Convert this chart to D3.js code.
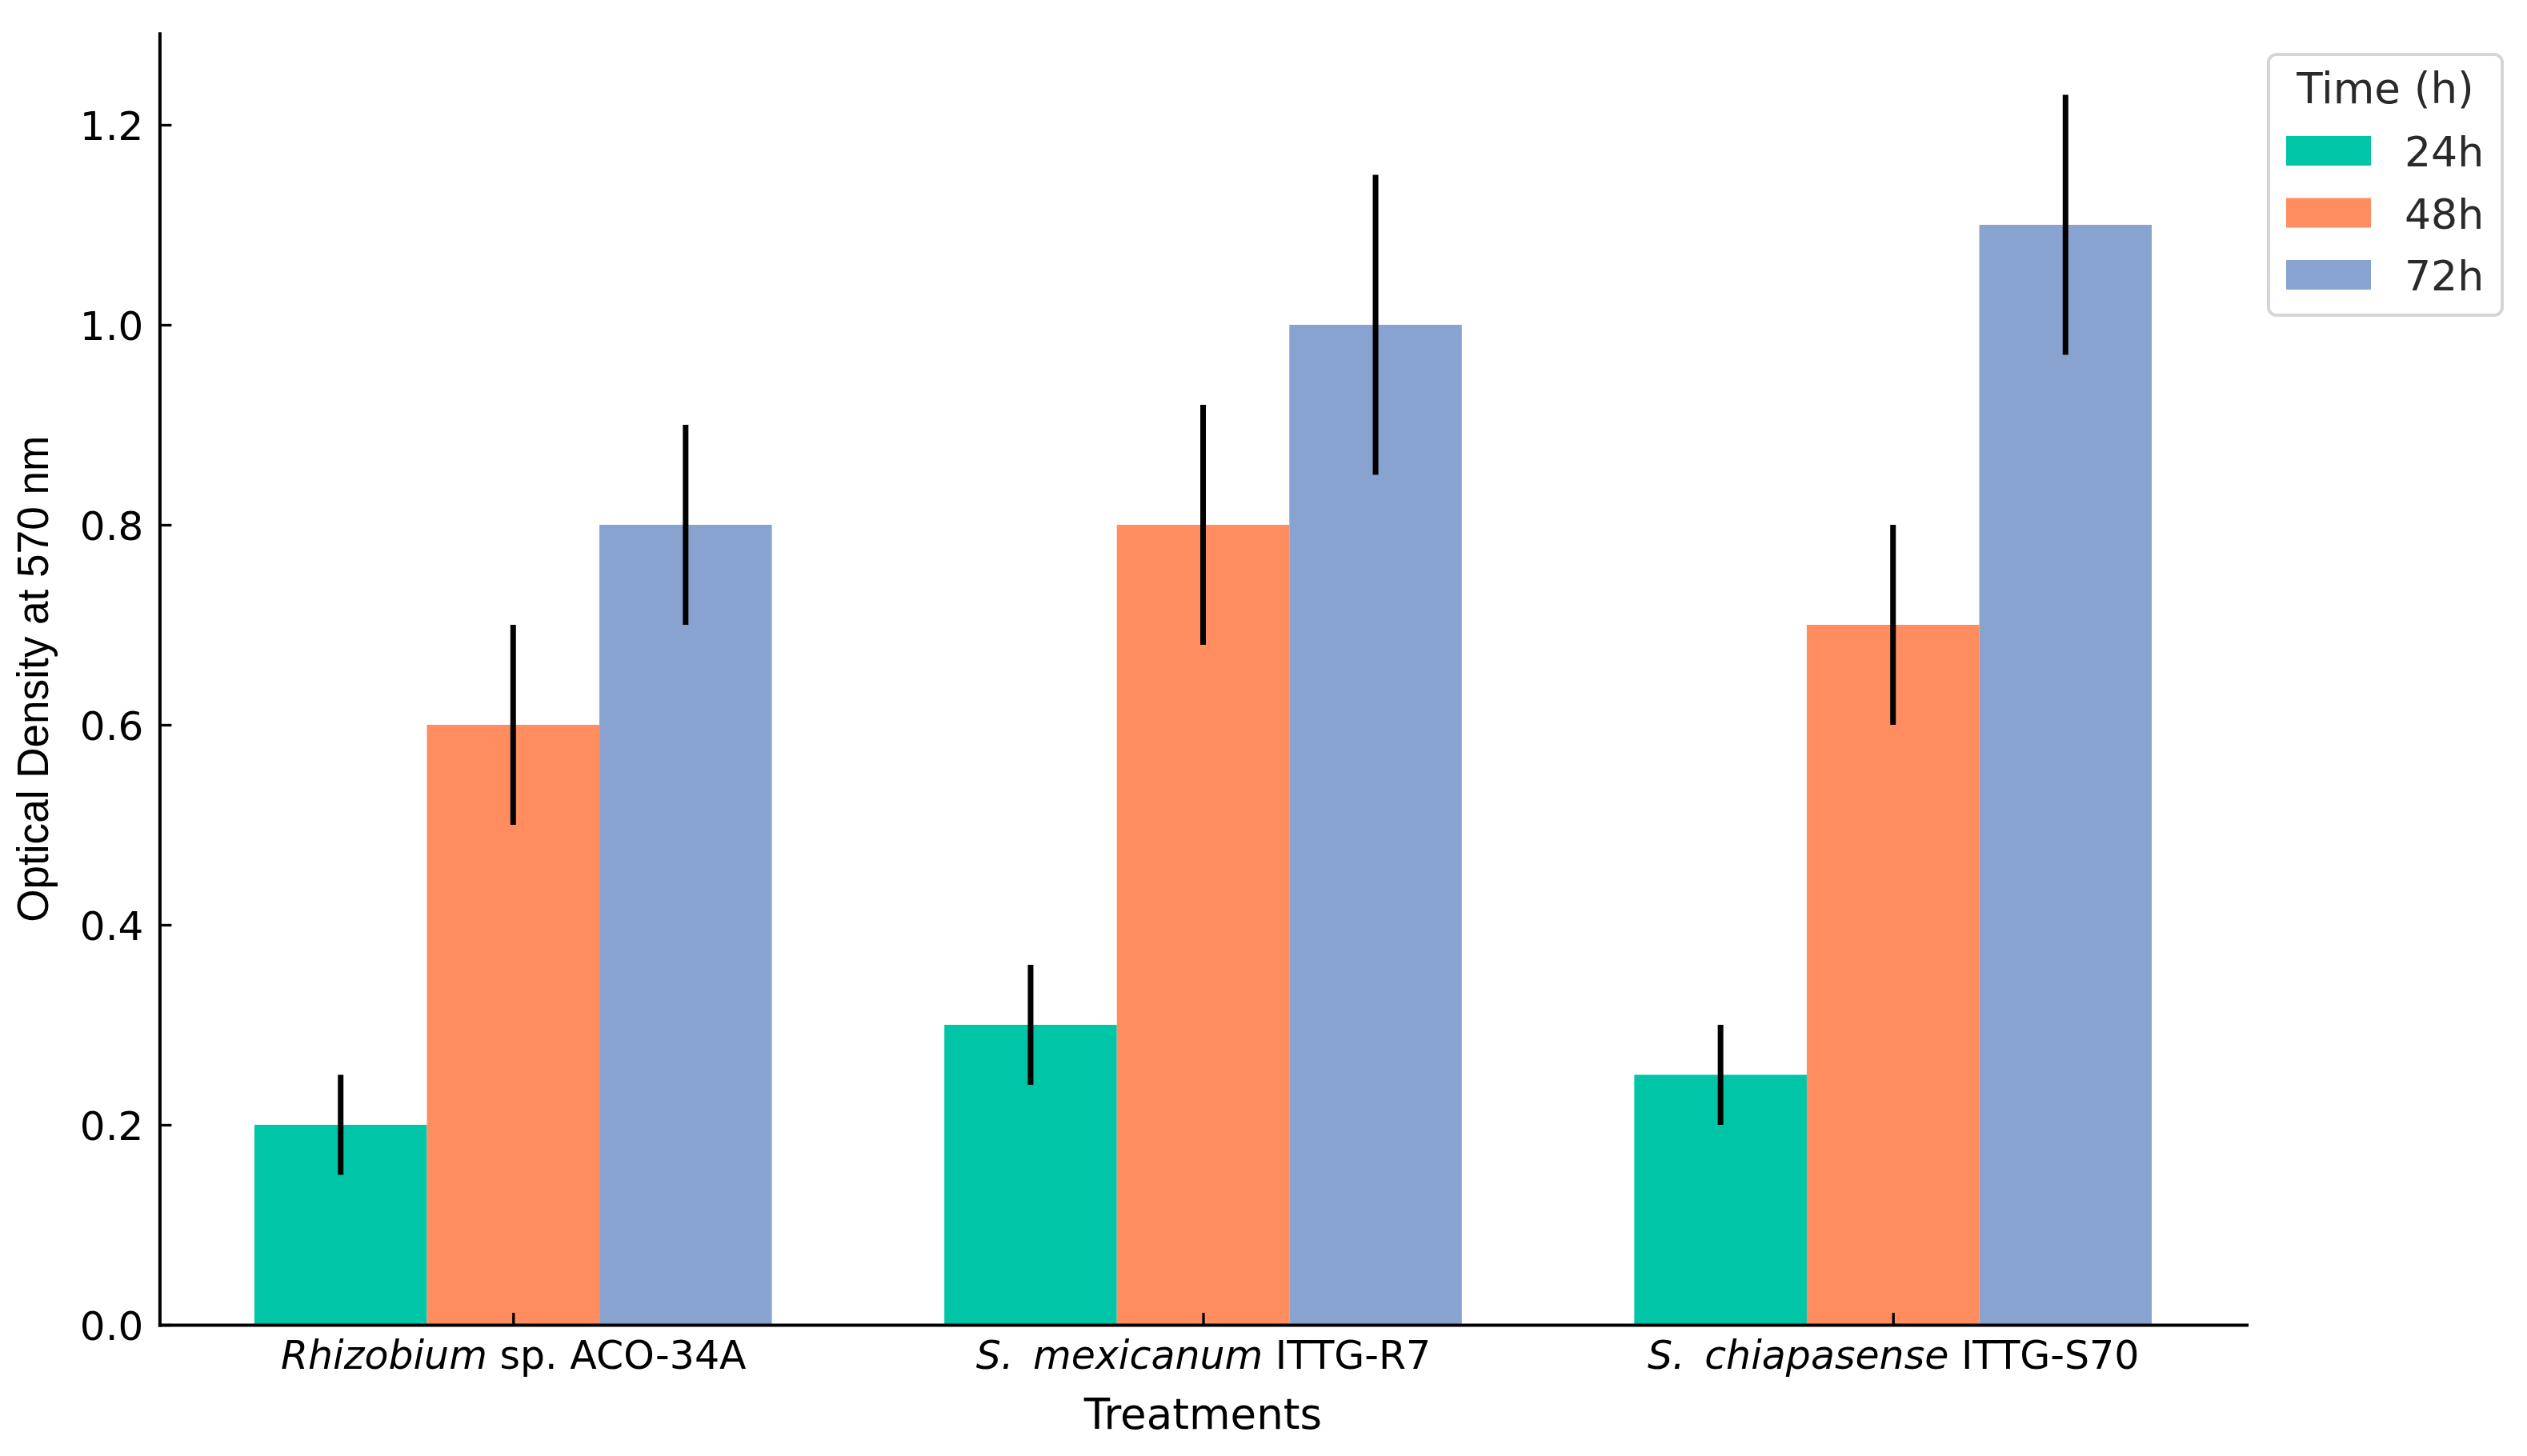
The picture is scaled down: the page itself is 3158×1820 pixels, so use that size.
<!DOCTYPE html>
<html>
<head>
<meta charset="utf-8">
<script src="https://cdn.jsdelivr.net/npm/d3@7"></script>
<style>
  body { margin: 0; background: #fff; }
  svg { display: block; }
</style>
</head>
<body>
<div class="chart"></div>
<script>
const width = 3158,
      height = 1820,
      font = 'DejaVu Sans';

// data
const treatments = ["Rhizobium sp. ACO-34A", "S. mexicanum ITTG-R7", "S. chiapasense ITTG-S70"];
// label pieces, true = italic
const treatmentParts = [
  [["Rhizobium", true], ["\u00a0sp. ACO-34A", false]],
  [["S.\u2002mexicanum", true], ["\u00a0ITTG-R7", false]],
  [["S.\u2002chiapasense", true], ["\u00a0ITTG-S70", false]]
];
const times = ["24h", "48h", "72h"];
const colors = ["#00c5a6", "#ff8d5f", "#88a3cf"];
const means24 = [0.20, 0.30, 0.25];
const means48 = [0.60, 0.80, 0.70];
const means72 = [0.80, 1.00, 1.10];
const err24 = [0.05, 0.06, 0.05];
const err48 = [0.10, 0.12, 0.10];
const err72 = [0.10, 0.15, 0.13];
const yTicks = [0, 0.2, 0.4, 0.6, 0.8, 1.0, 1.2];

const series = [
  {name: times[0], color: colors[0], values: means24, errs: err24},
  {name: times[1], color: colors[1], values: means48, errs: err48},
  {name: times[2], color: colors[2], values: means72, errs: err72}
];

const barWidth = 0.25;
let maxTop = d3.max(series, s => d3.max(s.values, (v, i) => v + s.errs[i]));

// plot box (pixels)
let left = 199.4, right = 2807.6, bottom = 1656;
let x = d3.scaleLinear().domain([-0.5125, 2.5125]).range([left, right]);
let y = d3.scaleLinear().domain([0, maxTop * 1.05]).range([bottom, bottom - maxTop * 1.05 * 1250]);

const svg = d3.select(".chart").append("svg")
  .attr("width", width)
  .attr("height", height)
  .style("font-family", font);

svg.append("rect").attr("width", width).attr("height", height).attr("fill", "#fff");

// bars
series.forEach((s, k) => {
  let off = (k - 1) * barWidth;
  svg.append("g").selectAll("rect")
    .data(s.values)
    .enter().append("rect")
      .attr("x", (d, i) => x(i + off - barWidth / 2))
      .attr("width", x(barWidth) - x(0))
      .attr("y", d => y(d))
      .attr("height", d => y(0) - y(d))
      .attr("fill", s.color);
});

// error bars
series.forEach((s, k) => {
  let off = (k - 1) * barWidth;
  svg.append("g").selectAll("line")
    .data(s.values)
    .enter().append("line")
      .attr("x1", (d, i) => x(i + off))
      .attr("x2", (d, i) => x(i + off))
      .attr("y1", (d, i) => y(d - s.errs[i]))
      .attr("y2", (d, i) => y(d + s.errs[i]))
      .attr("stroke", "#000")
      .attr("stroke-width", 7);
});

// y axis (ticks inward)
let yAxis = svg.append("g")
  .attr("transform", `translate(${left},0)`)
  .call(d3.axisLeft(y).tickValues(yTicks).tickFormat(d3.format(".1f"))
    .tickSize(-15).tickSizeOuter(0).tickPadding(20));
yAxis.select(".domain").attr("stroke-width", 4).attr("stroke-linecap", "square");
yAxis.selectAll(".tick line").attr("stroke-width", 3.3);
yAxis.selectAll(".tick text")
  .attr("font-size", 50).attr("font-family", font).attr("fill", "#000").attr("dy", "0.36em");

// x axis
let xAxis = svg.append("g")
  .attr("transform", `translate(0,${bottom})`)
  .call(d3.axisBottom(x).tickValues([0, 1, 2]).tickFormat((d, i) => treatments[i])
    .tickSize(-15).tickSizeOuter(0).tickPadding(55));
xAxis.select(".domain").attr("stroke-width", 4).attr("stroke-linecap", "square");
xAxis.selectAll(".tick line").attr("stroke-width", 3.3);
xAxis.selectAll(".tick text")
  .attr("font-size", 49).attr("font-family", font).attr("fill", "#000").attr("dy", 0)
  .each(function(d, i) {
    let t = d3.select(this).text(null);
    treatmentParts[i].forEach(p => {
      t.append("tspan").attr("font-style", p[1] ? "italic" : "normal").text(p[0]);
    });
  });

// axis titles
svg.append("text")
  .attr("x", (left + right) / 2).attr("y", 1786)
  .attr("text-anchor", "middle").attr("font-size", 53)
  .text("Treatments");

svg.append("text")
  .attr("transform", `translate(60,${(y.range()[0] + y.range()[1]) / 2}) rotate(-90)`)
  .attr("text-anchor", "middle")
  .attr("font-family", "Liberation Sans")
  .attr("font-size", 55)
  .attr("textLength", 608).attr("lengthAdjust", "spacingAndGlyphs")
  .text("Optical Density at 570 nm");

// legend
let legend = svg.append("g").attr("transform", "translate(2835,68)");
legend.append("rect")
  .attr("width", 292).attr("height", 326).attr("rx", 10)
  .attr("fill", "#fff").attr("stroke", "#d6d6d6").attr("stroke-width", 4);
legend.append("text")
  .attr("x", 146).attr("y", 61)
  .attr("text-anchor", "middle").attr("font-size", 53).attr("fill", "#2a2a2a")
  .text("Time (h)");
let item = legend.selectAll("g.item")
  .data(series)
  .enter().append("g")
    .attr("class", "item")
    .attr("transform", (d, i) => `translate(0,${102 + i * 77.5})`);
item.append("rect")
  .attr("x", 22).attr("width", 106).attr("height", 37)
  .attr("fill", d => d.color);
item.append("text")
  .attr("x", 170).attr("y", 38)
  .attr("font-size", 52).attr("fill", "#2a2a2a")
  .text(d => d.name);
</script>
</body>
</html>
